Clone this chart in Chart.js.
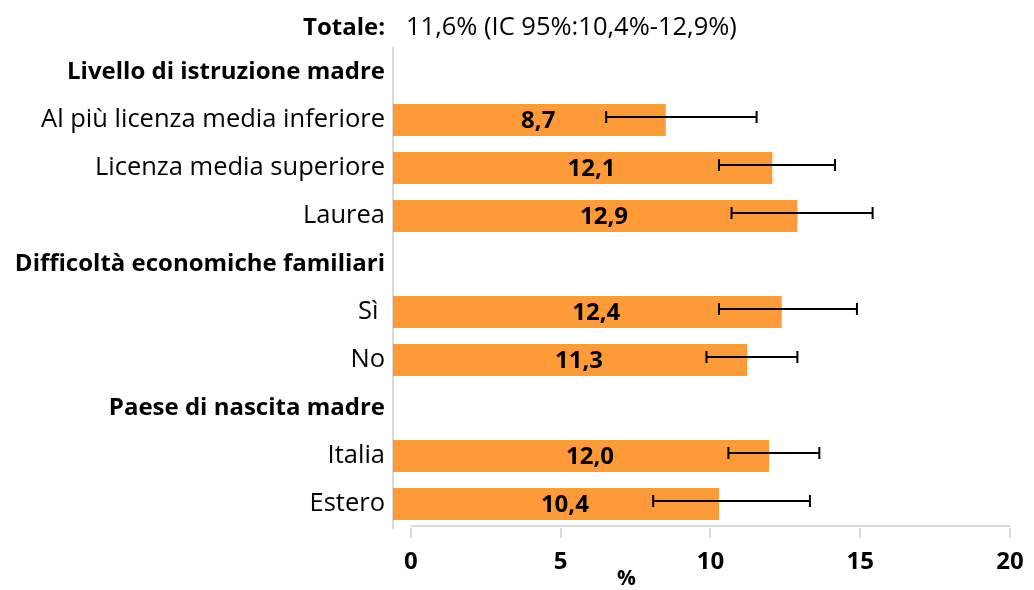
<!DOCTYPE html>
<html>
<head>
<meta charset="utf-8">
<script src="https://cdn.jsdelivr.net/npm/chart.js@4.4.1/dist/chart.umd.min.js"></script>
<style>
  html, body { margin: 0; padding: 0; background: #fff; }
</style>
</head>
<body>
<canvas id="chart" width="1034" height="590"></canvas>
<script>
const categories = [
  'Livello di istruzione madre',
  'Al più licenza media inferiore',
  'Licenza media superiore',
  'Laurea',
  'Difficoltà economiche familiari',
  'Sì ',
  'No',
  'Paese di nascita madre',
  'Italia',
  'Estero'
];
const headerRows = [0, 4, 7];
const values = [null, 8.7, 12.1, 12.9, null, 12.4, 11.3, null, 12.0, 10.4];
const ciLow  = [null, 6.8, 10.4, 10.8, null, 10.4, 10.0, null, 10.7, 8.3];
const ciHigh = [null, 11.6, 14.1, 15.3, null, 14.8, 12.9, null, 13.6, 13.3];
const axisTicks = [0, 5, 10, 15, 20];
const totalLabel = 'Totale:';
const totalText = '11,6% (IC 95%:10,4%-12,9%)';
const axisTitle = '%';

const FONT = '"Open Sans", "Noto Sans", sans-serif';
const SIZE = 25.5;   // regular text
const BOLD = 24;     // bold text
const barColor = '#FF9A38';

const fmt = v => v.toFixed(1).replace('.', ',');

// error bars, labels, title and the bottom axis line
const overlay = {
  id: 'overlay',
  afterDatasetsDraw(chart) {
    const { ctx } = chart;
    const x = chart.scales.x;
    const x2 = chart.scales.x2;
    const meta = chart.getDatasetMeta(0);
    ctx.save();

    ctx.font = 'bold ' + BOLD + 'px ' + FONT;
    ctx.fillStyle = '#000';
    ctx.textAlign = 'center';
    ctx.textBaseline = 'middle';
    meta.data.forEach((bar, i) => {
      if (values[i] == null) return;
      const mid = (x2.getPixelForValue(0) + bar.x) / 2;
      ctx.fillText(fmt(values[i]), mid, bar.y + 1);
    });

    ctx.strokeStyle = '#000';
    ctx.lineWidth = 2;
    meta.data.forEach((bar, i) => {
      if (values[i] == null) return;
      const y = bar.y - 3;
      const a = x.getPixelForValue(ciLow[i]);
      const b = x.getPixelForValue(ciHigh[i]);
      ctx.beginPath();
      ctx.moveTo(a, y); ctx.lineTo(b, y);
      ctx.moveTo(a, y - 6); ctx.lineTo(a, y + 6);
      ctx.moveTo(b, y - 6); ctx.lineTo(b, y + 6);
      ctx.stroke();
    });
    ctx.restore();
  },
  afterDraw(chart) {
    const { ctx, chartArea } = chart;
    const x2 = chart.scales.x2;
    ctx.save();

    // bottom axis line
    ctx.strokeStyle = '#d9d9d9';
    ctx.lineWidth = 2;
    ctx.beginPath();
    ctx.moveTo(x2.getPixelForValue(axisTicks[0]), x2.top - 2);
    ctx.lineTo(x2.getPixelForValue(axisTicks[axisTicks.length - 1]), x2.top - 2);
    ctx.stroke();

    // "%" under the axis
    ctx.fillStyle = '#000';
    ctx.font = 'bold 21px ' + FONT;
    ctx.textAlign = 'center';
    ctx.textBaseline = 'middle';
    ctx.fillText(axisTitle, x2.getPixelForValue(7.2), 579);

    // total line on top
    ctx.textBaseline = 'middle';
    ctx.font = 'bold ' + BOLD + 'px ' + FONT;
    ctx.textAlign = 'right';
    ctx.fillText(totalLabel, chartArea.left - 8, 28);
    ctx.font = SIZE + 'px ' + FONT;
    ctx.textAlign = 'left';
    ctx.fillText(totalText, chartArea.left + 13, 28);
    ctx.restore();
  }
};

new Chart(document.getElementById('chart'), {
  type: 'bar',
  data: {
    labels: categories,
    datasets: [{
      data: values,
      backgroundColor: barColor,
      borderWidth: 0,
      barPercentage: 0.667,
      categoryPercentage: 1
    }]
  },
  options: {
    indexAxis: 'y',
    responsive: false,
    animation: false,
    layout: { padding: { top: 48, right: 7, bottom: 0, left: 0 } },
    plugins: { legend: { display: false }, tooltip: { enabled: false } },
    scales: {
      x: { display: false, min: 0, max: 20 },
      x2: {
        type: 'linear',
        position: 'bottom',
        min: -0.594,
        max: 20.33,
        afterBuildTicks: s => { s.ticks = axisTicks.map(v => ({ value: v })); },
        afterFit: s => { s.height = 62; },
        border: { display: false },
        grid: { drawOnChartArea: false, drawTicks: true, tickLength: 10, color: '#d9d9d9', lineWidth: 2 },
        ticks: { color: '#000', padding: 10, font: { family: FONT, size: BOLD, weight: 'bold' } }
      },
      y: {
        afterFit: s => { s.width = 393; },
        border: { display: true, color: '#d9d9d9', width: 2 },
        grid: { drawOnChartArea: false, drawTicks: false },
        ticks: {
          color: '#000',
          padding: 8,
          autoSkip: false,
          font: c => headerRows.includes(c.index)
            ? { family: FONT, size: BOLD, weight: 'bold' }
            : { family: FONT, size: SIZE, weight: 'normal' }
        }
      }
    }
  },
  plugins: [overlay]
});
</script>
</body>
</html>
